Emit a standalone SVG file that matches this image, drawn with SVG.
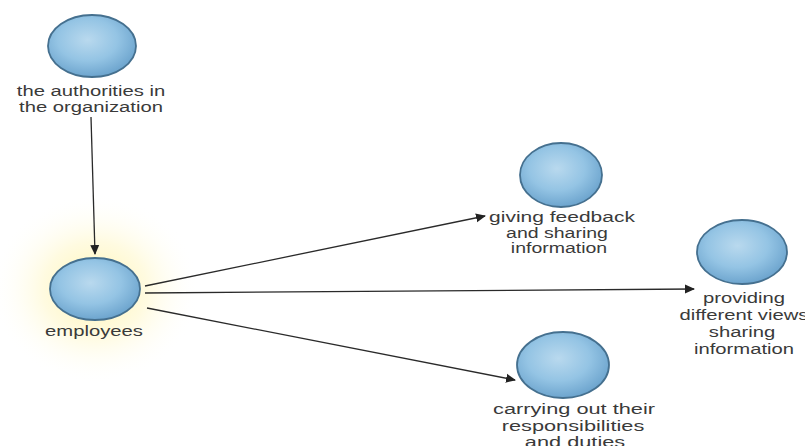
<svg xmlns="http://www.w3.org/2000/svg" width="805" height="446" viewBox="0 0 805 446">
  <defs>
    <radialGradient id="ball" cx="0.45" cy="0.4" r="0.62">
      <stop offset="0" stop-color="#b9d9ee"/>
      <stop offset="0.55" stop-color="#94c4e4"/>
      <stop offset="1" stop-color="#6aa2cc"/>
    </radialGradient>
    <radialGradient id="glow" cx="0.5" cy="0.5" r="0.5">
      <stop offset="0" stop-color="#fff3a6" stop-opacity="0.95"/>
      <stop offset="0.5" stop-color="#fff8cc" stop-opacity="0.6"/>
      <stop offset="1" stop-color="#ffffff" stop-opacity="0"/>
    </radialGradient>
    <marker id="arr" viewBox="0 0 10 10" refX="9" refY="5" markerWidth="10" markerHeight="10" markerUnits="userSpaceOnUse" orient="auto">
      <path d="M0,0.5 L10,5 L0,9.5 Z" fill="#222"/>
    </marker>
  </defs>
  <style>
    .ball { fill: url(#ball); stroke: #45708f; stroke-width: 1.8; }
    .lbl { font-family: "Liberation Sans", Arial, sans-serif; font-size: 15px; fill: #3a3a3a; text-anchor: middle; }
    .conn { stroke: #2a2a2a; stroke-width: 1.3; fill: none; marker-end: url(#arr); }
  </style>
  <rect width="805" height="446" fill="#ffffff"/>

  <g id="employees">
    <ellipse cx="95" cy="289" rx="105" ry="95" fill="url(#glow)"/>
    <ellipse class="ball" cx="95" cy="289" rx="45" ry="31"/>
    <text class="lbl" transform="translate(94 0) scale(1.35 1)" x="0" y="336">employees</text>
  </g>

  <g id="connectors">
    <line class="conn" x1="91" y1="117" x2="95" y2="254"/>
    <line class="conn" x1="145" y1="286" x2="485" y2="216"/>
    <line class="conn" x1="145" y1="293" x2="694" y2="289"/>
    <line class="conn" x1="147" y1="308" x2="515" y2="380"/>
  </g>

  <g id="authorities">
    <ellipse class="ball" cx="92" cy="46" rx="44" ry="31"/>
    <text class="lbl" transform="translate(91 0) scale(1.35 1)" x="0" y="96">the authorities in</text>
    <text class="lbl" transform="translate(91 0) scale(1.35 1)" x="0" y="112">the organization</text>
  </g>

  <g id="feedback">
    <ellipse class="ball" cx="561" cy="175" rx="41" ry="32"/>
    <text class="lbl" transform="translate(562 0) scale(1.4 1)" x="0" y="222">giving feedback</text>
    <text class="lbl" transform="translate(557 0) scale(1.3 1)" x="0" y="238">and sharing</text>
    <text class="lbl" transform="translate(559 0) scale(1.3 1)" x="0" y="253">information</text>
  </g>

  <g id="providing">
    <ellipse class="ball" cx="742" cy="252" rx="45" ry="32"/>
    <text class="lbl" transform="translate(744 0) scale(1.35 1)" x="0" y="303">providing</text>
    <text class="lbl" transform="translate(744 0) scale(1.35 1)" x="0" y="320">different views</text>
    <text class="lbl" transform="translate(742 0) scale(1.35 1)" x="0" y="337">sharing</text>
    <text class="lbl" transform="translate(744 0) scale(1.35 1)" x="0" y="354">information</text>
  </g>

  <g id="carrying">
    <ellipse class="ball" cx="563" cy="365" rx="46" ry="33"/>
    <text class="lbl" transform="translate(574 0) scale(1.45 1)" x="0" y="414">carrying out their</text>
    <text class="lbl" transform="translate(573 0) scale(1.45 1)" x="0" y="431">responsibilities</text>
    <text class="lbl" transform="translate(575 0) scale(1.45 1)" x="0" y="447">and duties</text>
  </g>
</svg>
